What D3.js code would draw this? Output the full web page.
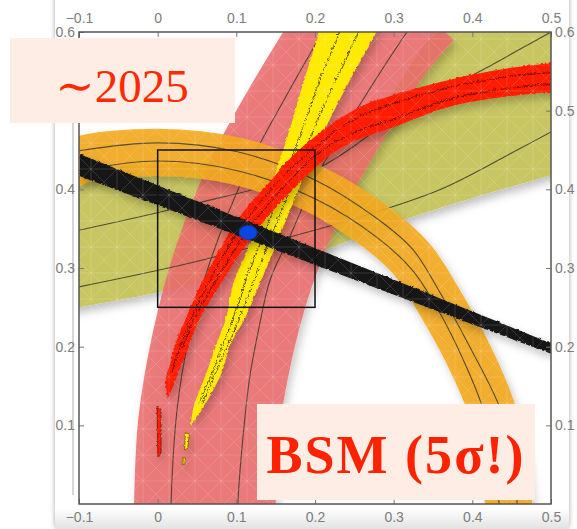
<!DOCTYPE html>
<html>
<head>
<meta charset="utf-8">
<script src="https://cdn.jsdelivr.net/npm/d3@7"></script>
<style>
  html, body { margin: 0; padding: 0; background: #fff; }
  svg { display: block; }
</style>
</head>
<body>
<div id="chart"></div>
<script>
const W = 577, H = 529;

// axis ticks
const xTicks = [-0.1, 0, 0.1, 0.2, 0.3, 0.4, 0.5];
const yTicks = [0.1, 0.2, 0.3, 0.4, 0.5, 0.6];
const yTicksLeft = [0.1, 0.2, 0.3, 0.4, 0.6]; // 0.5 sits under the ~2025 box

// olive region (upper / lower edge), plus its two contour lines
const oliveLower = [[-0.12, 0.245], [-0.1, 0.25], [0, 0.269], [0.1, 0.293], [0.2, 0.319], [0.3, 0.357], [0.4, 0.389], [0.5, 0.418], [0.52, 0.424]];
const oliveUpper = [[-0.12, 0.426], [-0.1, 0.428], [0.05, 0.433], [0.2, 0.44], [0.28, 0.5], [0.35, 0.6], [0.4, 0.66], [0.52, 0.66]];
const oliveLineLo = [[-0.1, 0.276], [0.04, 0.306], [0.147, 0.334], [0.245, 0.361], [0.36, 0.4], [0.457, 0.45], [0.5, 0.473]];
const oliveLineHi = [[-0.1, 0.348], [0.04, 0.38], [0.2, 0.425], [0.3, 0.49], [0.428, 0.56], [0.5, 0.6]];

// pink band (centre + full width) and its two contour lines
const pinkMid = [[0.06, -0.03], [0.06, 0], [0.065, 0.1], [0.082, 0.2], [0.109, 0.3], [0.149, 0.4], [0.204, 0.5], [0.268, 0.6], [0.31, 0.65]];
const pinkWidth = 0.18;
const pinkLineL = [[0.017, -0.01], [0.017, 0], [0.025, 0.123], [0.039, 0.208], [0.064, 0.3], [0.098, 0.39], [0.129, 0.456], [0.153, 0.5], [0.21, 0.6], [0.23, 0.63]];
const pinkLineR = [[0.102, -0.01], [0.102, 0], [0.108, 0.08], [0.117, 0.161], [0.128, 0.22], [0.143, 0.285], [0.168, 0.34], [0.204, 0.42], [0.246, 0.49], [0.317, 0.6], [0.34, 0.63]];

// orange ring (centre + full width) and its two contour lines
const orangeMid = [[-0.12, 0.425], [-0.1, 0.437], [0, 0.447], [0.1, 0.436], [0.2, 0.4], [0.28, 0.35], [0.324, 0.31], [0.357, 0.259], [0.392, 0.196], [0.425, 0.12], [0.44, 0.06], [0.446, 0], [0.447, -0.02]];
const orangeWidth = 0.06;
const orangeLineA = [[-0.1, 0.424], [0, 0.436], [0.1, 0.424], [0.2, 0.388], [0.28, 0.338], [0.324, 0.297], [0.357, 0.246], [0.39, 0.18], [0.414, 0.12], [0.428, 0.06], [0.434, 0]];
const orangeLineB = [[-0.1, 0.449], [0, 0.459], [0.1, 0.448], [0.2, 0.412], [0.28, 0.362], [0.324, 0.324], [0.357, 0.272], [0.394, 0.205], [0.436, 0.12], [0.451, 0.06], [0.457, 0]];

// yellow band edges and contour lines
const yellowLeft = [[0.041, 0.1], [0.044, 0.123], [0.06, 0.166], [0.075, 0.208], [0.086, 0.238], [0.096, 0.285], [0.113, 0.323], [0.13, 0.365], [0.148, 0.42], [0.166, 0.475], [0.185, 0.54], [0.204, 0.6], [0.21, 0.62]];
const yellowRight = [[0.041, 0.1], [0.056, 0.123], [0.079, 0.166], [0.093, 0.208], [0.11, 0.238], [0.13, 0.285], [0.146, 0.323], [0.163, 0.365], [0.186, 0.42], [0.21, 0.475], [0.243, 0.54], [0.276, 0.6], [0.284, 0.62]];
const yellowLineA = [[0.051, 0.13], [0.076, 0.19], [0.095, 0.24], [0.115, 0.3], [0.141, 0.365], [0.161, 0.42], [0.181, 0.475], [0.204, 0.54], [0.228, 0.6], [0.232, 0.62]];
const yellowLineB = [[0.055, 0.13], [0.081, 0.19], [0.103, 0.24], [0.126, 0.3], [0.152, 0.365], [0.173, 0.42], [0.195, 0.475], [0.224, 0.54], [0.252, 0.6], [0.258, 0.62]];
const yellowBits = [
  [[0.034, 0.092], [0.039, 0.09], [0.037, 0.072], [0.033, 0.07]],
  [[0.031, 0.06], [0.034, 0.06], [0.033, 0.05], [0.031, 0.05]]
];

// red band edges and contour lines
const redUpper = [[0.012, 0.135], [0.009, 0.16], [0.016, 0.183], [0.02, 0.2], [0.035, 0.238], [0.054, 0.281], [0.077, 0.323], [0.102, 0.365], [0.139, 0.408], [0.177, 0.45], [0.25, 0.503], [0.295, 0.52], [0.372, 0.541], [0.45, 0.556], [0.5, 0.562], [0.52, 0.565]];
const redLower = [[0.012, 0.135], [0.022, 0.16], [0.031, 0.183], [0.038, 0.2], [0.053, 0.238], [0.079, 0.281], [0.106, 0.323], [0.138, 0.365], [0.178, 0.408], [0.218, 0.445], [0.25, 0.463], [0.295, 0.479], [0.372, 0.507], [0.45, 0.52], [0.5, 0.524], [0.52, 0.526]];
const redLineA = [[0.016, 0.17], [0.026, 0.2], [0.042, 0.24], [0.062, 0.282], [0.086, 0.325], [0.113, 0.366], [0.15, 0.41], [0.192, 0.45], [0.25, 0.492], [0.295, 0.51], [0.372, 0.532], [0.45, 0.546], [0.5, 0.551]];
const redLineB = [[0.03, 0.2], [0.046, 0.24], [0.07, 0.282], [0.096, 0.325], [0.125, 0.366], [0.163, 0.41], [0.205, 0.45], [0.25, 0.475], [0.295, 0.49], [0.372, 0.517], [0.45, 0.531], [0.5, 0.536]];
const redBits = [
  [[-0.002, 0.125], [0.003, 0.12], [0.003, 0.065], [-0.001, 0.06]]
];

// black band edges
const blackUpper = [[-0.1, 0.446], [0.1, 0.366], [0.3, 0.286], [0.5, 0.205]];
const blackLower = [[-0.1, 0.418], [0.1, 0.343], [0.3, 0.267], [0.5, 0.192]];

const bestFit = [0.115, 0.345];
const zoomBox = [[0, 0.25], [0.2, 0.45]];

// ---------------------------------------------------------------

const x = d3.scaleLinear().domain([-0.1, 0.5]).range([79, 551]);
const y = d3.scaleLinear().domain([0, 0.6]).range([504, 32]);
const px = w => x(w) - x(0);

const line = d3.line().x(d => x(d[0])).y(d => y(d[1])).curve(d3.curveCatmullRom.alpha(0.5));
const poly = d3.line().x(d => x(d[0])).y(d => y(d[1]));
const band = (a, b) => line(a) + line(b.slice().reverse()).replace(/^M/, 'L') + 'Z';

const svg = d3.select('#chart').append('svg').attr('width', W).attr('height', H);
const defs = svg.append('defs');

defs.append('clipPath').attr('id', 'plotClip')
  .append('rect')
  .attr('x', x(-0.1)).attr('y', y(0.6))
  .attr('width', x(0.5) - x(-0.1)).attr('height', y(0) - y(0.6));

// filters work in page space so wide strokes are not cut
const filter = id => defs.append('filter').attr('id', id)
  .attr('filterUnits', 'userSpaceOnUse')
  .attr('x', -50).attr('y', -50).attr('width', W + 100).attr('height', H + 100);

filter('shadow').append('feDropShadow').attr('dx', 3).attr('dy', 5).attr('stdDeviation', 4)
  .attr('flood-color', '#000').attr('flood-opacity', 0.25);

filter('cardShadow').append('feDropShadow').attr('dx', 0).attr('dy', 2).attr('stdDeviation', 2.5)
  .attr('flood-color', '#000').attr('flood-opacity', 0.35);

const jagFilter = (id, freq, scale) => {
  const f = filter(id);
  f.append('feTurbulence').attr('type', 'turbulence').attr('baseFrequency', freq)
    .attr('numOctaves', 1).attr('seed', 4).attr('result', 'noise');
  f.append('feDisplacementMap').attr('in', 'SourceGraphic').attr('in2', 'noise')
    .attr('scale', scale).attr('xChannelSelector', 'R').attr('yChannelSelector', 'G');
};
jagFilter('jag', 0.3, 4);
jagFilter('jagSoft', 0.25, 2.5);

const mesh = defs.append('pattern').attr('id', 'mesh')
  .attr('width', 26).attr('height', 26).attr('patternUnits', 'userSpaceOnUse');
mesh.append('path').attr('d', 'M0 0L26 26M0 26L26 0M13 0V26M0 13H26')
  .attr('stroke', '#fff').attr('stroke-width', 0.6).attr('opacity', 0.22).attr('fill', 'none');

const fade = defs.append('linearGradient').attr('id', 'fade').attr('x1', 0).attr('y1', 0).attr('x2', 0).attr('y2', 1);
fade.append('stop').attr('offset', '0%').attr('stop-color', '#fff');
fade.append('stop').attr('offset', '100%').attr('stop-color', '#e2e2e2');

// card behind the plot
svg.append('rect').attr('x', 55).attr('y', -20).attr('width', 514).attr('height', 545)
  .attr('fill', '#fff').attr('filter', 'url(#cardShadow)');
svg.append('rect').attr('x', 55).attr('y', 508).attr('width', 514).attr('height', 21).attr('fill', 'url(#fade)');
svg.append('line').attr('x1', 73).attr('x2', 73).attr('y1', 40).attr('y2', 495)
  .attr('stroke', '#d6d6d6').attr('stroke-width', 2);

const plot = svg.append('g').attr('clip-path', 'url(#plotClip)');

// olive
plot.append('path').attr('d', band(oliveUpper, oliveLower))
  .attr('fill', '#c8c662').attr('filter', 'url(#shadow)');

// pink
plot.append('path').attr('d', line(pinkMid))
  .attr('fill', 'none').attr('stroke', '#eb6a6a').attr('stroke-opacity', 0.86)
  .attr('stroke-width', px(pinkWidth)).attr('filter', 'url(#shadow)');

const thin = (g, pts, opts = {}) => g.append('path').attr('d', line(pts))
  .attr('fill', 'none').attr('stroke', opts.color || '#3a3a2a')
  .attr('stroke-width', opts.w || 1.1).attr('stroke-opacity', opts.op || 0.85);

const lines1 = plot.append('g');
[oliveLineLo, oliveLineHi, pinkLineL, pinkLineR].forEach(l => thin(lines1, l));

// orange
plot.append('path').attr('d', line(orangeMid))
  .attr('fill', 'none').attr('stroke', '#f3a91c').attr('stroke-opacity', 0.9)
  .attr('stroke-width', px(orangeWidth)).attr('filter', 'url(#shadow)');
const lines2 = plot.append('g');
[orangeLineA, orangeLineB].forEach(l => thin(lines2, l));

// yellow
const yel = plot.append('g').attr('filter', 'url(#shadow)');
const yelJ = yel.append('g').attr('filter', 'url(#jagSoft)');
yelJ.append('path').attr('d', band(yellowLeft, yellowRight)).attr('fill', '#ffea00');
yellowBits.forEach(b => yelJ.append('path').attr('d', poly(b) + 'Z').attr('fill', '#ffea00').attr('stroke', '#6b5a00').attr('stroke-width', 0.8));
const yelLines = plot.append('g').attr('filter', 'url(#jag)');
[yellowLineA, yellowLineB].forEach(l => thin(yelLines, l, { color: '#3b3400', w: 1 }));

// red
const red = plot.append('g').attr('filter', 'url(#shadow)');
const redJ = red.append('g').attr('filter', 'url(#jagSoft)');
redJ.append('path').attr('d', band(redUpper, redLower)).attr('fill', '#ff1a00');
redBits.forEach(b => redJ.append('path').attr('d', poly(b) + 'Z').attr('fill', '#ff1a00').attr('stroke', '#7a0d00').attr('stroke-width', 0.8));
const redLines = plot.append('g').attr('filter', 'url(#jag)');
[redLineA, redLineB].forEach(l => thin(redLines, l, { color: '#5a0a00', w: 1 }));

// black
plot.append('g').attr('filter', 'url(#shadow)')
  .append('path').attr('d', band(blackUpper, blackLower))
  .attr('fill', '#141414').attr('filter', 'url(#jagSoft)');

// faint mesh over the shaded regions
plot.append('rect').attr('x', x(-0.1)).attr('y', y(0.6))
  .attr('width', x(0.5) - x(-0.1)).attr('height', y(0) - y(0.6))
  .attr('fill', 'url(#mesh)');

// zoom box
svg.append('rect')
  .attr('x', x(zoomBox[0][0])).attr('y', y(zoomBox[1][1]))
  .attr('width', x(zoomBox[1][0]) - x(zoomBox[0][0]))
  .attr('height', y(zoomBox[0][1]) - y(zoomBox[1][1]))
  .attr('fill', 'none').attr('stroke', '#111').attr('stroke-width', 1.5);

// best fit point
svg.append('ellipse').attr('cx', x(bestFit[0])).attr('cy', y(bestFit[1]))
  .attr('rx', 9).attr('ry', 7).attr('fill', '#0a46e0').attr('stroke', '#0a3ab8').attr('stroke-width', 1);

// frame + axes
const fmt = d => d === 0 ? '0' : d3.format('.1f')(d);
const axisStyle = g => {
  g.select('.domain').remove();
  g.selectAll('line').attr('stroke', '#777');
  g.selectAll('text').attr('fill', '#7d7d7d').attr('font-size', 14).attr('font-family', 'Liberation Sans, Arial, sans-serif');
};
svg.append('g').attr('transform', `translate(0,${y(0.6)})`)
  .call(d3.axisTop(x).tickValues(xTicks).tickFormat(fmt).tickSize(-5).tickPadding(9)).call(axisStyle);
svg.append('g').attr('transform', `translate(0,${y(0)})`)
  .call(d3.axisBottom(x).tickValues(xTicks).tickFormat(fmt).tickSize(-5).tickPadding(8)).call(axisStyle);
svg.append('g').attr('transform', `translate(${x(-0.1)},0)`)
  .call(d3.axisLeft(y).tickValues(yTicksLeft).tickFormat(fmt).tickSize(-5).tickPadding(4)).call(axisStyle);
svg.append('g').attr('transform', `translate(${x(0.5)},0)`)
  .call(d3.axisRight(y).tickValues(yTicks).tickFormat(fmt).tickSize(-5).tickPadding(4)).call(axisStyle);

svg.append('rect')
  .attr('x', x(-0.1)).attr('y', y(0.6))
  .attr('width', x(0.5) - x(-0.1)).attr('height', y(0) - y(0.6))
  .attr('fill', 'none').attr('stroke', '#555').attr('stroke-width', 1.5);

// annotation boxes
svg.append('rect').attr('x', 10).attr('y', 38).attr('width', 225).attr('height', 85).attr('fill', '#fdede4');
svg.append('text').attr('x', 122).attr('y', 102).attr('text-anchor', 'middle')
  .attr('font-family', 'Liberation Serif, DejaVu Serif, serif').attr('font-size', 47)
  .attr('fill', '#ff2a00')
  .text('\u223C2025');

svg.append('rect').attr('x', 257).attr('y', 404).attr('width', 278).attr('height', 96).attr('fill', '#fdede4');
svg.append('text').attr('x', 395).attr('y', 473).attr('text-anchor', 'middle')
  .attr('font-family', 'Liberation Serif, DejaVu Serif, serif').attr('font-size', 54)
  .attr('font-weight', 'bold').attr('fill', '#ff2200').attr('textLength', 257)
  .text('BSM (5\u03C3!)');
</script>
</body>
</html>
